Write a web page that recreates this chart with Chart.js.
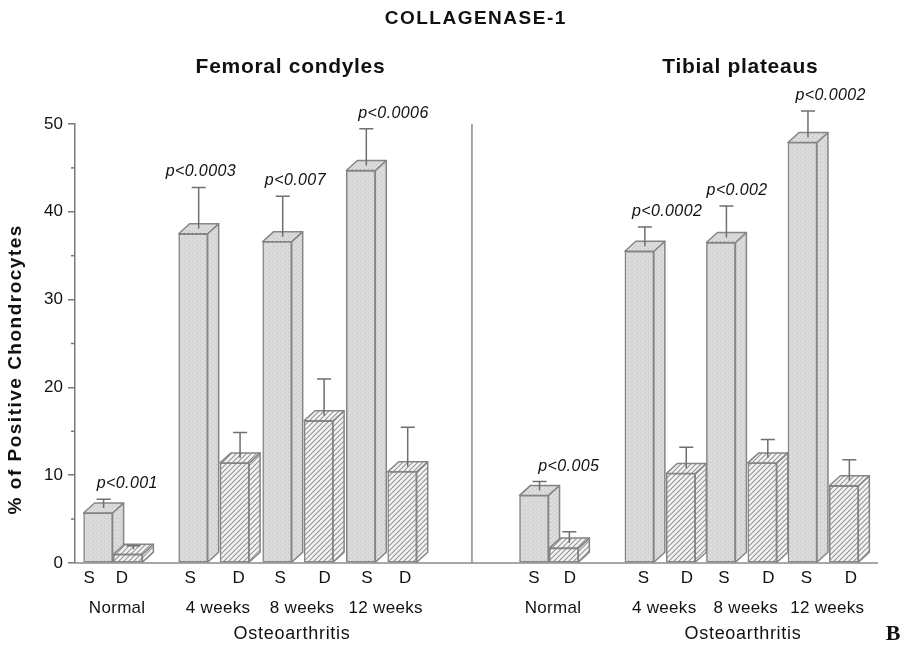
<!DOCTYPE html>
<html><head><meta charset="utf-8">
<script src="https://cdn.jsdelivr.net/npm/chart.js@4.4.1/dist/chart.umd.min.js"></script>
<style>html,body{margin:0;padding:0;background:#fff;}canvas{display:block;}</style>
</head><body>
<canvas id="c" width="918" height="646"></canvas>
<script>
// ---------------- data ----------------
const mainTitle = 'COLLAGENASE-1';
const panelTitles = ['Femoral condyles', 'Tibial plateaus'];
const groups = ['Normal', '4 weeks', '8 weeks', '12 weeks'];
const oaLabel = 'Osteoarthritis';
const seriesNames = ['S', 'D'];
const yTitle = '% of Positive Chondrocytes';
const yTicks = [0, 10, 20, 30, 40, 50];

const femoralS    = [5.7, 37.5, 36.6, 44.7];
const femoralSErr = [1.0, 4.7, 4.6, 4.2];
const femoralD    = [1.0, 11.4, 16.2, 10.4];
const femoralDErr = [0.4, 2.9, 4.2, 4.5];
const tibialS     = [7.7, 35.5, 36.5, 47.9];
const tibialSErr  = [1.0, 2.2, 3.6, 3.0];
const tibialD     = [1.7, 10.2, 11.4, 8.8];
const tibialDErr  = [1.3, 2.4, 2.1, 2.4];
const femoralP = ['p<0.001', 'p<0.0003', 'p<0.007', 'p<0.0006'];
const tibialP  = ['p<0.005', 'p<0.0002', 'p<0.002', 'p<0.0002'];

// ---------------- layout (x-scale units, not data) ----------------
const X_MAX = 19.4;
const groupCenters = [[0.918, 3.355, 5.385, 7.405], [11.45, 14.135, 16.105, 18.075]];
const halfGap = [0.36, 0.5, 0.5, 0.5];
const dividerX = 9.59;
const pLabelNudge = [[29, 7.5, 18, 32.5], [34.5, 27.5, 16, 28]];
const sdLabelNudge = [[-9, -6, -3, 4, 3, 6, 6, 3], [0, 6, 4, 6, 3, 6, 4, 7]];
const DX = 11, DY = 10;
const EDGE = '#858585';
const FONT = '"Liberation Sans", Arial, Helvetica, sans-serif';

// ---------------- patterns ----------------
function stipple() {
  const c = document.createElement('canvas'); c.width = 4; c.height = 4;
  const g = c.getContext('2d');
  g.fillStyle = '#dadada'; g.fillRect(0, 0, 4, 4);
  g.fillStyle = '#c6c6c6'; g.fillRect(0, 0, 1, 1); g.fillRect(2, 2, 1, 1);
  g.fillStyle = '#e6e6e6'; g.fillRect(2, 0, 1, 1);
  return g.createPattern(c, 'repeat');
}
function hatch() {
  const c = document.createElement('canvas'); c.width = 5; c.height = 5;
  const g = c.getContext('2d');
  g.fillStyle = '#f4f4f4'; g.fillRect(0, 0, 5, 5);
  g.strokeStyle = '#949494'; g.lineWidth = 1.1;
  g.beginPath();
  g.moveTo(-1, 6); g.lineTo(6, -1);
  g.moveTo(-6, 6); g.lineTo(1, -1);
  g.moveTo(4, 6); g.lineTo(11, -1);
  g.stroke();
  return g.createPattern(c, 'repeat');
}

const sVals = [femoralS, tibialS], dVals = [femoralD, tibialD];
const pLabels = [femoralP, tibialP];

function buildData(vals, sign) {
  const out = [];
  for (let p = 0; p < 2; p++) for (let g = 0; g < groups.length; g++)
    out.push({ x: groupCenters[p][g] + sign * halfGap[g], y: vals[p][g] });
  return out;
}
const errS = [].concat(femoralSErr, tibialSErr);
const errD = [].concat(femoralDErr, tibialDErr);

function txt(ctx, s, x, y, font, align, spacing) {
  ctx.save();
  ctx.font = font; ctx.fillStyle = '#111'; ctx.textAlign = align || 'center';
  ctx.textBaseline = 'alphabetic';
  if (spacing) ctx.letterSpacing = spacing + 'px';
  ctx.fillText(s, x + (spacing && (align || 'center') === 'center' ? spacing / 2 : 0), y);
  ctx.restore();
}

const threeD = {
  id: 'threeD',
  beforeDatasetsDraw(chart) {
    const ctx = chart.ctx;
    const bars = [];
    chart.data.datasets.forEach((ds, di) => chart.getDatasetMeta(di).data.forEach(el => bars.push({ el, di })));
    bars.sort((a, b) => a.el.x - b.el.x);
    bars.forEach(({ el, di }) => {
      const { x, y, base, width } = el.getProps(['x', 'y', 'base', 'width'], true);
      const l = x - width / 2, r = x + width / 2;
      ctx.save();
      ctx.fillStyle = chart.data.datasets[di].backgroundColor;
      ctx.strokeStyle = EDGE; ctx.lineWidth = 1.5; ctx.lineJoin = 'round';
      ctx.beginPath(); ctx.moveTo(r, base); ctx.lineTo(r + DX, base - DY); ctx.lineTo(r + DX, y - DY); ctx.lineTo(r, y); ctx.closePath();
      ctx.fill(); ctx.stroke();
      ctx.beginPath(); ctx.moveTo(l, y); ctx.lineTo(l + DX, y - DY); ctx.lineTo(r + DX, y - DY); ctx.lineTo(r, y); ctx.closePath();
      ctx.fill(); ctx.stroke();
      ctx.restore();
    });
  },
  afterDatasetsDraw(chart) {
    const ctx = chart.ctx, ys = chart.scales.y, xs = chart.scales.x, ca = chart.chartArea;
    ctx.save();
    ctx.strokeStyle = '#8a8a8a'; ctx.lineWidth = 1.5;
    ctx.beginPath(); ctx.moveTo(ca.left, ca.bottom); ctx.lineTo(ca.right, ca.bottom); ctx.stroke();
    const dx = xs.getPixelForValue(dividerX);
    ctx.beginPath(); ctx.moveTo(dx, ys.getPixelForValue(50)); ctx.lineTo(dx, ys.getPixelForValue(0)); ctx.stroke();
    ctx.strokeStyle = '#7a7a7a';
    for (let v = 5; v < 50; v += 10) {
      const py = ys.getPixelForValue(v);
      ctx.beginPath(); ctx.moveTo(ca.left - 4, py); ctx.lineTo(ca.left, py); ctx.stroke();
    }
    ctx.strokeStyle = '#6f6f6f'; ctx.lineWidth = 1.5;
    const errs = [errS, errD];
    chart.data.datasets.forEach((ds, di) => {
      chart.getDatasetMeta(di).data.forEach((el, i) => {
        const v = ds.data[i].y, e = errs[di][i];
        const ex = el.x + DX / 2;
        const y0 = el.y - DY / 2;
        const y1 = ys.getPixelForValue(v + e) - DY / 2;
        ctx.beginPath(); ctx.moveTo(ex, y0); ctx.lineTo(ex, y1);
        ctx.moveTo(ex - 7, y1); ctx.lineTo(ex + 7, y1); ctx.stroke();
        const p = Math.floor(i / groups.length), g = i % groups.length;
        if (di === 0) {
          txt(ctx, pLabels[p][g], el.x + pLabelNudge[p][g], y1 - 11, 'italic 16px ' + FONT, 'center', 0.4);
        }
        txt(ctx, seriesNames[di], el.x + sdLabelNudge[p][g * 2 + di], 583, '17px ' + FONT, 'center', 0);
      });
    });
    const sMeta = chart.getDatasetMeta(0).data, dMeta = chart.getDatasetMeta(1).data;
    for (let p = 0; p < 2; p++) {
      for (let g = 0; g < groups.length; g++) {
        const k = p * groups.length + g;
        const mid = (sMeta[k].x + dMeta[k].x) / 2 + 4;
        txt(ctx, groups[g], mid, 613, '17px ' + FONT, 'center', 0.3);
      }
      const oaMid = (sMeta[p * 4 + 1].x + dMeta[p * 4 + 3].x) / 2 + (p === 0 ? -6 : 1);
      txt(ctx, oaLabel, oaMid, 639, '18px ' + FONT, 'center', 0.7);
      const panelMid = p === 0 ? (sMeta[0].x + dMeta[3].x) / 2 + 40 : (sMeta[4].x + dMeta[7].x) / 2 + 51;
      txt(ctx, panelTitles[p], panelMid, 73, 'bold 21px ' + FONT, 'center', 0.7);
    }
    txt(ctx, mainTitle, 475, 24, 'bold 19px ' + FONT, 'center', 1.5);
    txt(ctx, 'B', 893, 640, 'bold 22px "Liberation Serif", "DejaVu Serif", serif', 'center', 0);
    ctx.save();
    ctx.translate(21, 370); ctx.rotate(-Math.PI / 2);
    txt(ctx, yTitle, 0, 0, 'bold 19px ' + FONT, 'center', 1.5);
    ctx.restore();
    ctx.restore();
  }
};

const S_FILL = stipple(), D_FILL = hatch();
new Chart(document.getElementById('c'), {
  type: 'bar',
  data: {
    datasets: [
      { label: seriesNames[0], data: buildData(sVals, -1), backgroundColor: S_FILL, borderColor: EDGE, borderWidth: 1.5, borderSkipped: false, barThickness: 29, grouped: false },
      { label: seriesNames[1], data: buildData(dVals, 1), backgroundColor: D_FILL, borderColor: EDGE, borderWidth: 1.5, borderSkipped: false, barThickness: 29, grouped: false }
    ]
  },
  options: {
    responsive: false, animation: false, devicePixelRatio: 1,
    layout: { padding: { left: 0, right: 40, top: 124, bottom: 83 } },
    plugins: { legend: { display: false }, tooltip: { enabled: false }, title: { display: false } },
    scales: {
      x: { type: 'linear', display: false, min: 0, max: X_MAX, offset: false },
      y: {
        min: 0, max: 50,
        afterFit(s) { s.width = 75; },
        afterBuildTicks(s) { s.ticks = yTicks.map(v => ({ value: v })); },
        ticks: { color: '#111', font: { family: FONT, size: 17 }, padding: 5 },
        grid: { drawOnChartArea: false, tickLength: 7, color: '#7a7a7a', lineWidth: 1.5 },
        border: { color: '#7a7a7a', width: 1.5 }
      }
    }
  },
  plugins: [threeD]
});
</script>
</body></html>
